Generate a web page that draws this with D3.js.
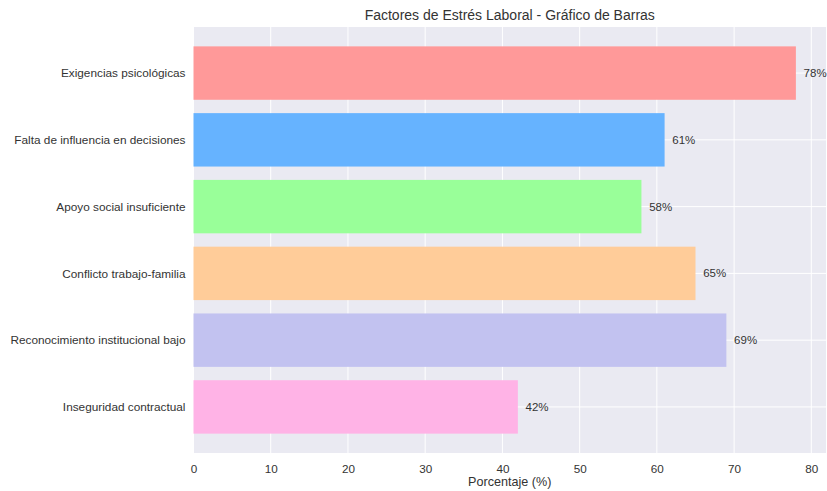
<!DOCTYPE html>
<html>
<head>
<meta charset="utf-8">
<script src="https://cdn.jsdelivr.net/npm/d3@7"></script>
<style>
  body { margin: 0; background: #fff; }
  svg { font-family: "Liberation Sans", Arial, sans-serif; }
</style>
</head>
<body>
<div id="chart"></div>
<script>
var categories = ["Exigencias psicológicas", "Falta de influencia en decisiones", "Apoyo social insuficiente",
                  "Conflicto trabajo-familia", "Reconocimiento institucional bajo", "Inseguridad contractual"];
var values = [78, 61, 58, 65, 69, 42];
var colors = ["#ff9999", "#66b3ff", "#99ff99", "#ffcc99", "#c2c2f0", "#ffb3e6"];
var xTicks = [0, 10, 20, 30, 40, 50, 60, 70, 80];

var width = 827, height = 491;
var margin = {top: 27, right: 1, bottom: 38, left: 193.5};

var svg = d3.select("#chart").append("svg")
    .attr("width", width)
    .attr("height", height);

var x = d3.scaleLinear()
    .domain([0, d3.max(values) * 1.05])
    .range([margin.left, width - margin.right]);

// category positions in matplotlib style: index 0 at top, with 0.05 margins
var n = categories.length;
var pad = (n - 1 + 0.8) * 0.05;
var y = d3.scaleLinear()
    .domain([-0.4 - pad, n - 1 + 0.4 + pad])
    .range([margin.top, height - margin.bottom]);

svg.append("rect")
    .attr("x", margin.left)
    .attr("y", margin.top)
    .attr("width", width - margin.right - margin.left)
    .attr("height", height - margin.bottom - margin.top)
    .attr("fill", "#eaeaf2");

// grid
svg.append("g").selectAll("line")
    .data(xTicks).enter().append("line")
    .attr("x1", d => x(d)).attr("x2", d => x(d))
    .attr("y1", margin.top).attr("y2", height - margin.bottom)
    .attr("stroke", "#fff").attr("stroke-width", 1);

svg.append("g").selectAll("line")
    .data(categories).enter().append("line")
    .attr("x1", margin.left).attr("x2", width - margin.right)
    .attr("y1", (d, i) => y(i)).attr("y2", (d, i) => y(i))
    .attr("stroke", "#fff").attr("stroke-width", 1);

// bars
svg.append("g").selectAll("rect")
    .data(values).enter().append("rect")
    .attr("x", x(0))
    .attr("y", (d, i) => y(i - 0.4))
    .attr("width", d => x(d) - x(0))
    .attr("height", (d, i) => y(i + 0.4) - y(i - 0.4))
    .attr("fill", (d, i) => colors[i]);

// value labels
svg.append("g").selectAll("text")
    .data(values).enter().append("text")
    .attr("x", d => x(d + 1))
    .attr("y", (d, i) => y(i))
    .attr("dy", "0.35em")
    .style("font-size", "11.5px")
    .attr("fill", "#333")
    .text(d => d + "%");

// x axis
var xAxis = svg.append("g")
    .attr("transform", "translate(0," + (height - margin.bottom) + ")")
    .call(d3.axisBottom(x).tickValues(xTicks).tickSize(0).tickPadding(12));
xAxis.select(".domain").remove();
xAxis.selectAll("text").style("font-size", "11.7px").attr("fill", "#333");

// y axis
var yAxis = svg.append("g")
    .attr("transform", "translate(" + margin.left + ",0)")
    .call(d3.axisLeft(y).tickValues(d3.range(n)).tickFormat(i => categories[i]).tickSize(0).tickPadding(8));
yAxis.select(".domain").remove();
yAxis.selectAll("text").style("font-size", "11.8px").attr("fill", "#333");

svg.append("text")
    .attr("x", (margin.left + width - margin.right) / 2)
    .attr("y", 486)
    .attr("text-anchor", "middle")
    .style("font-size", "12.6px")
    .attr("fill", "#333")
    .text("Porcentaje (%)");

svg.append("text")
    .attr("x", (margin.left + width - margin.right) / 2)
    .attr("y", 20)
    .attr("text-anchor", "middle")
    .style("font-size", "14px")
    .attr("fill", "#333")
    .text("Factores de Estrés Laboral - Gráfico de Barras");
</script>
</body>
</html>
